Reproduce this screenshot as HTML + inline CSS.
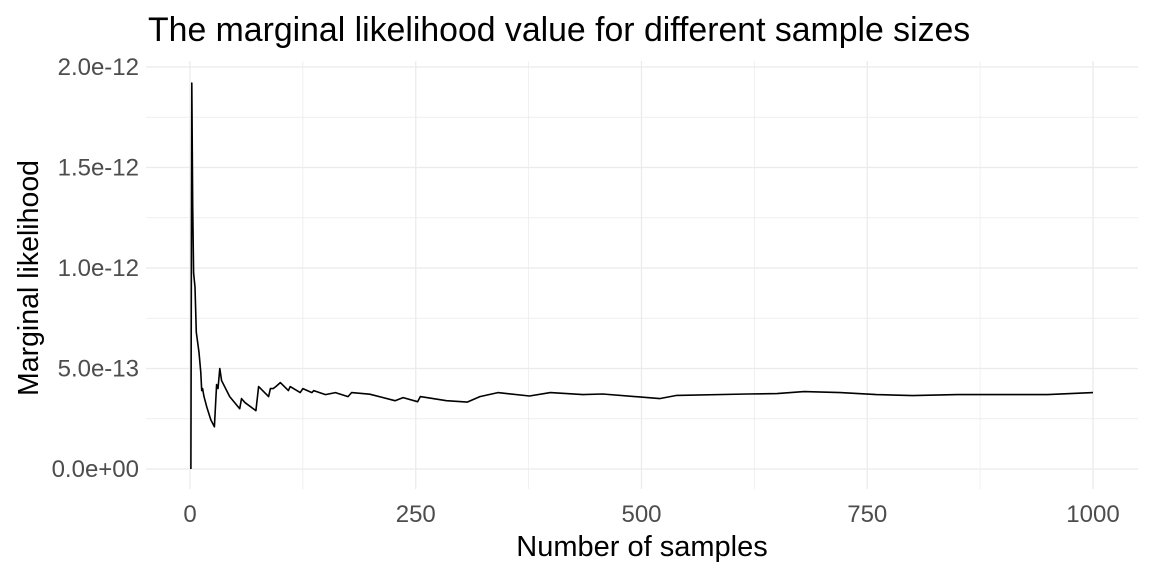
<!DOCTYPE html>
<html><head><meta charset="utf-8"><style>
html,body{margin:0;padding:0;background:#fff;}
svg{display:block;font-family:"Liberation Sans",Arial,sans-serif;}
</style></head><body>
<svg id="chart" width="1152" height="576">
<text x="148" y="41" font-size="33.8" fill="#000">The marginal likelihood value for different sample sizes</text>
<g id="grid"></g>
<g id="ticks"></g>
<path id="line" fill="none" stroke="#000" stroke-width="1.6" stroke-linejoin="round"/>
<text x="642" y="556" font-size="29" text-anchor="middle" fill="#000">Number of samples</text>
<text transform="translate(38,278) rotate(-90)" font-size="28.5" text-anchor="middle" fill="#000">Marginal likelihood</text>
</svg>
<script>
const samples=[1,2,3,4,5.5,7,10,12,13,14,15.5,18.5,23,27,29.5,31,33,35,44,55,57,61,73,76,87,89,92,95,100,109,111,122,125,135,137,150,161,175,179,199,227,236,252,255,284,307,321,341,376,399,435,457,520,539,617,650,680,720,760,800,850,900,950,1000];
const likelihood=[0,1.92,1.31,0.975,0.905,0.68,0.58,0.48,0.39,0.40,0.36,0.31,0.245,0.21,0.42,0.40,0.50,0.44,0.36,0.30,0.35,0.33,0.29,0.41,0.36,0.40,0.40,0.41,0.43,0.39,0.41,0.38,0.40,0.38,0.39,0.37,0.38,0.36,0.38,0.372,0.34,0.355,0.335,0.36,0.34,0.333,0.36,0.38,0.363,0.38,0.37,0.373,0.35,0.366,0.373,0.375,0.385,0.38,0.37,0.365,0.37,0.37,0.37,0.38];
const xTicks=[0,250,500,750,1000];
const xTickLabels=["0","250","500","750","1000"];
const yTicks=[0,0.5,1.0,1.5,2.0];
const yTickLabels=["0.0e+00","5.0e-13","1.0e-12","1.5e-12","2.0e-12"];
const X=v=>190+v*0.903;
const Y=v=>469-v*201;
const NS="http://www.w3.org/2000/svg";
const grid=document.getElementById('grid'),ticks=document.getElementById('ticks');
function ln(x1,y1,x2,y2,w){const l=document.createElementNS(NS,'line');l.setAttribute('x1',x1);l.setAttribute('y1',y1);l.setAttribute('x2',x2);l.setAttribute('y2',y2);l.setAttribute('stroke','#ebebeb');l.setAttribute('stroke-width',w);grid.appendChild(l);return l;}
for(let i=0;i<yTicks.length;i++){
 const l=ln(146,Y(yTicks[i]),1138,Y(yTicks[i]),1.3);
 
 
 if(i<yTicks.length-1){const m=ln(146,Y((yTicks[i]+yTicks[i+1])/2),1138,Y((yTicks[i]+yTicks[i+1])/2),0.7);
 
 }
 const t=document.createElementNS(NS,'text');t.setAttribute('x',139);t.setAttribute('y',Y(yTicks[i])+8);t.setAttribute('text-anchor','end');t.setAttribute('font-size','24');t.setAttribute('fill','#4d4d4d');t.textContent=yTickLabels[i];
 
 
 ticks.appendChild(t);
}
for(let i=0;i<xTicks.length;i++){
 const l=ln(X(xTicks[i]),61,X(xTicks[i]),489,1.3);
 
 
 if(i<xTicks.length-1){const m=ln(X((xTicks[i]+xTicks[i+1])/2),61,X((xTicks[i]+xTicks[i+1])/2),489,0.7);
 
 }
 const t=document.createElementNS(NS,'text');t.setAttribute('x',X(xTicks[i]));t.setAttribute('y',522);t.setAttribute('text-anchor','middle');t.setAttribute('font-size','24');t.setAttribute('fill','#4d4d4d');t.textContent=xTickLabels[i];
 
 
 ticks.appendChild(t);
}
document.getElementById('line').setAttribute('d',samples.map((s,i)=>(i?'L':'M')+X(s).toFixed(1)+','+Y(likelihood[i]).toFixed(1)).join(' '));
</script>
</body></html>
